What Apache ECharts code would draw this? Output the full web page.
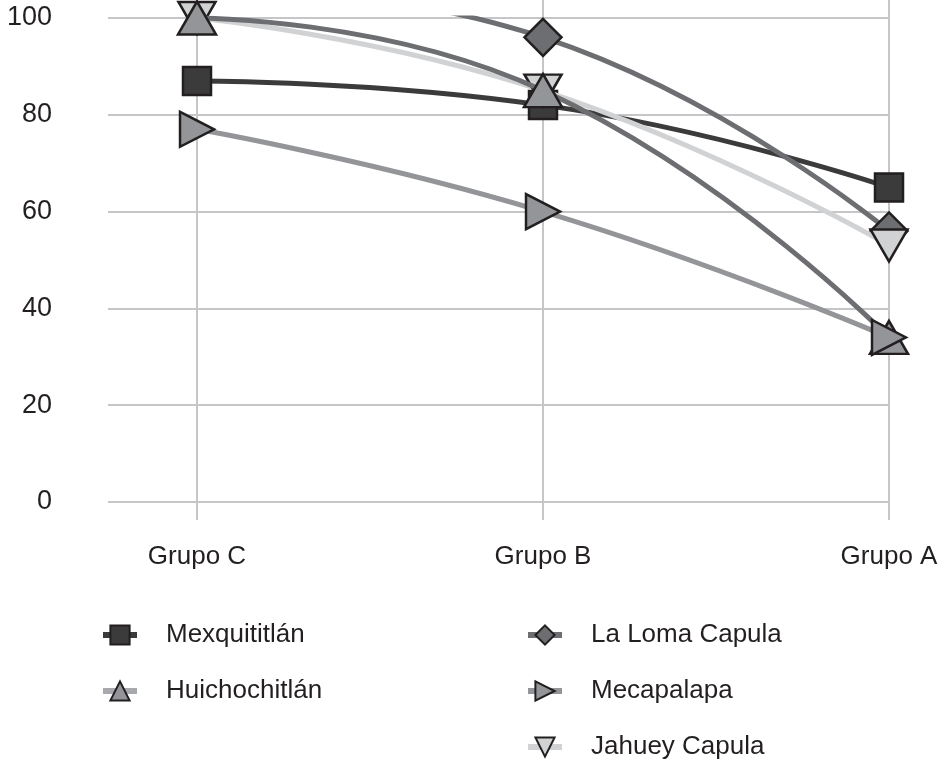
<!DOCTYPE html>
<html>
<head>
<meta charset="utf-8">
<script src="https://cdn.jsdelivr.net/npm/echarts@6/dist/echarts.min.js"></script>
<style>html,body{margin:0;padding:0;background:#fff}#c{width:950px;height:760px}</style>
</head>
<body>
<div id="c"></div>
<script>
const categories = ['Grupo C', 'Grupo B', 'Grupo A'];
const yTicks = [0, 20, 40, 60, 80, 100];
const mexquititlan = [87, 82, 65];
const huichochitlan = [100, 85, 34];
const laLomaCapula = [107, 96, 56];
const mecapalapa = [77, 60, 34];
const jahueyCapula = [100, 85, 53];

const FONT = 'Liberation Sans, Arial, sans-serif';
const TXT = '#231f20';
const GRID = '#c6c6c8';
const border = {borderColor: '#231f20', borderWidth: 2.5};

function mk(name, data, lineColor, fill, symbol, size, rotate, z) {
  return {
    name, type: 'line', data, xAxisIndex: 1, yAxisIndex: 1,
    smooth: 0.5, symbol, symbolSize: size, symbolRotate: rotate,
    showAllSymbol: true, clip: true, z,
    lineStyle: {color: lineColor, width: 5},
    itemStyle: Object.assign({color: fill}, border),
    emphasis: {disabled: true}
  };
}

const series = [
  mk('Mexquititlán', mexquititlan, '#3b3b3c', '#3b3b3c', 'rect', 28, 0, 2),
  mk('La Loma Capula', laLomaCapula, '#6d6e71', '#6d6e71', 'diamond', [37, 37], 0, 3),
  mk('Jahuey Capula', jahueyCapula, '#d1d2d4', '#d1d2d4', 'triangle', [37, 32], 180, 4),
  mk('Huichochitlán', huichochitlan, '#6d6e71', '#939598', 'triangle', [38, 33], 0, 5),
  mk('Mecapalapa', mecapalapa, '#939598', '#939598', 'triangle', [35, 34], -90, 6)
];

const legendCommon = {
  orient: 'vertical', itemWidth: 34, itemHeight: 24, itemGap: 28, padding: 0,
  height: 160,
  lineStyle: {width: 6},
  itemStyle: {borderWidth: 2},
  textStyle: {fontFamily: FONT, fontSize: 26, color: TXT, padding: [0, 0, 0, 24], lineHeight: 28},
  selectedMode: false
};

const chart = echarts.init(document.getElementById('c'), null, {renderer: 'canvas'});
chart.setOption({
  animation: false,
  backgroundColor: '#fff',
  grid: [
    {left: 108, right: 61, top: 18, bottom: 258},
    {left: 197, right: 61, top: 18, bottom: 258},
    {left: 197, right: 61, top: 0, bottom: 240}
  ],
  xAxis: [
    {gridIndex: 0, type: 'value', min: 0, max: 1, show: false},
    {gridIndex: 1, type: 'category', data: categories, boundaryGap: false,
     axisLine: {show: false}, axisTick: {show: false}, splitLine: {show: false},
     axisLabel: {fontFamily: FONT, fontSize: 26, color: TXT, margin: 42}},
    {gridIndex: 2, type: 'category', data: categories, boundaryGap: false,
     axisLine: {show: false}, axisTick: {show: false}, axisLabel: {show: false},
     splitLine: {show: true, lineStyle: {color: GRID, width: 2}}}
  ],
  yAxis: [
    {gridIndex: 0, type: 'value', min: yTicks[0], max: yTicks[yTicks.length - 1], interval: 20,
     axisLine: {show: false}, axisTick: {show: false},
     axisLabel: {fontFamily: FONT, fontSize: 27, color: TXT, margin: 56},
     splitLine: {show: true, lineStyle: {color: GRID, width: 2}}},
    {gridIndex: 1, type: 'value', min: 0, max: 100, interval: 20, show: false, splitLine: {show: false}},
    {gridIndex: 2, type: 'value', min: 0, max: 100, show: false, splitLine: {show: false}}
  ],
  legend: [
    Object.assign({left: 100, top: 621, data: [
      'Mexquititlán',
      {name: 'Huichochitlán', lineStyle: {color: '#a7a9ac'}}
    ]}, legendCommon),
    Object.assign({left: 525, top: 621, data: [
      'La Loma Capula',
      'Mecapalapa',
      {name: 'Jahuey Capula', lineStyle: {color: '#d1d2d4'}}
    ]}, legendCommon)
  ],
  series
});
</script>
</body>
</html>
